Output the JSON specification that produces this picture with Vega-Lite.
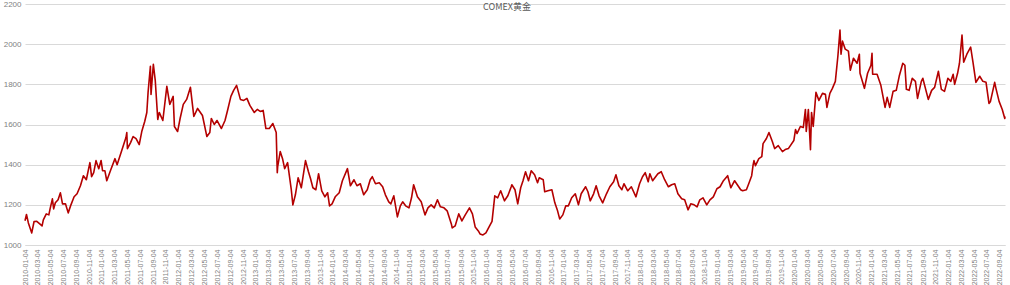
{
  "$schema": "https://vega.github.io/schema/vega-lite/v6.json",
  "width": 980,
  "height": 241,
  "autosize": {"type": "none"},
  "padding": {"left": 25, "top": 4, "right": 5, "bottom": 40},
  "background": "white",
  "title": {"text": "COMEX黄金", "font": "Noto Sans CJK SC", "fontSize": 9, "fontWeight": "normal", "color": "#595959", "anchor": "middle", "frame": "group", "offset": -12, "dx": -8},
  "config": {"view": {"stroke": null}},
  "data": {"values": [
    {"d":"2010-01-04","v":1121},{"d":"2010-01-11","v":1152},{"d":"2010-01-20","v":1110},{"d":"2010-01-28","v":1085},{"d":"2010-02-05","v":1060},{"d":"2010-02-16","v":1117},{"d":"2010-03-01","v":1118},{"d":"2010-03-15","v":1105},{"d":"2010-03-26","v":1095},{"d":"2010-04-01","v":1125},{"d":"2010-04-15","v":1155},{"d":"2010-04-27","v":1150},{"d":"2010-05-03","v":1180},{"d":"2010-05-14","v":1230},{"d":"2010-05-20","v":1180},{"d":"2010-05-28","v":1210},{"d":"2010-06-10","v":1225},{"d":"2010-06-21","v":1260},{"d":"2010-07-01","v":1205},{"d":"2010-07-15","v":1205},{"d":"2010-07-28","v":1160},{"d":"2010-08-10","v":1200},{"d":"2010-08-25","v":1240},{"d":"2010-09-08","v":1255},{"d":"2010-09-24","v":1295},{"d":"2010-10-08","v":1345},{"d":"2010-10-22","v":1325},{"d":"2010-11-08","v":1410},{"d":"2010-11-16","v":1340},{"d":"2010-11-26","v":1360},{"d":"2010-12-07","v":1420},{"d":"2010-12-20","v":1380},{"d":"2010-12-31","v":1421},
    {"d":"2011-01-07","v":1370},{"d":"2011-01-18","v":1370},{"d":"2011-01-27","v":1320},{"d":"2011-02-15","v":1375},{"d":"2011-03-07","v":1430},{"d":"2011-03-17","v":1400},{"d":"2011-04-08","v":1470},{"d":"2011-04-28","v":1535},{"d":"2011-05-02","v":1560},{"d":"2011-05-05","v":1480},{"d":"2011-05-20","v":1510},{"d":"2011-06-01","v":1540},{"d":"2011-06-15","v":1530},{"d":"2011-06-30","v":1500},{"d":"2011-07-12","v":1565},{"d":"2011-07-26","v":1615},{"d":"2011-08-05","v":1660},{"d":"2011-08-11","v":1760},{"d":"2011-08-22","v":1890},{"d":"2011-08-25","v":1750},{"d":"2011-09-05","v":1900},{"d":"2011-09-14","v":1820},{"d":"2011-09-26","v":1625},{"d":"2011-10-03","v":1660},{"d":"2011-10-20","v":1620},{"d":"2011-11-08","v":1790},{"d":"2011-11-22","v":1700},{"d":"2011-12-08","v":1740},{"d":"2011-12-14","v":1590},{"d":"2011-12-29","v":1565},
    {"d":"2012-01-10","v":1630},{"d":"2012-01-25","v":1700},{"d":"2012-02-10","v":1725},{"d":"2012-02-28","v":1785},{"d":"2012-03-15","v":1640},{"d":"2012-04-02","v":1680},{"d":"2012-04-25","v":1645},{"d":"2012-05-16","v":1540},{"d":"2012-05-30","v":1560},{"d":"2012-06-06","v":1630},{"d":"2012-06-20","v":1600},{"d":"2012-07-03","v":1620},{"d":"2012-07-24","v":1580},{"d":"2012-08-10","v":1620},{"d":"2012-08-22","v":1670},{"d":"2012-09-07","v":1740},{"d":"2012-09-20","v":1770},{"d":"2012-10-04","v":1795},{"d":"2012-10-22","v":1725},{"d":"2012-11-07","v":1720},{"d":"2012-11-22","v":1730},{"d":"2012-12-06","v":1695},{"d":"2012-12-27","v":1660},
    {"d":"2013-01-10","v":1675},{"d":"2013-01-24","v":1665},{"d":"2013-02-07","v":1670},{"d":"2013-02-20","v":1580},{"d":"2013-03-08","v":1580},{"d":"2013-03-25","v":1605},{"d":"2013-04-10","v":1560},{"d":"2013-04-15","v":1360},{"d":"2013-04-17","v":1390},{"d":"2013-04-29","v":1465},{"d":"2013-05-10","v":1430},{"d":"2013-05-20","v":1380},{"d":"2013-06-03","v":1410},{"d":"2013-06-20","v":1280},{"d":"2013-06-28","v":1200},{"d":"2013-07-10","v":1250},{"d":"2013-07-23","v":1335},{"d":"2013-08-07","v":1285},{"d":"2013-08-27","v":1420},{"d":"2013-09-10","v":1365},{"d":"2013-09-20","v":1330},{"d":"2013-10-01","v":1285},{"d":"2013-10-15","v":1275},{"d":"2013-10-28","v":1355},{"d":"2013-11-12","v":1270},{"d":"2013-11-27","v":1240},{"d":"2013-12-10","v":1260},{"d":"2013-12-19","v":1195},{"d":"2013-12-31","v":1205},
    {"d":"2014-01-15","v":1240},{"d":"2014-02-03","v":1260},{"d":"2014-02-18","v":1320},{"d":"2014-03-14","v":1380},{"d":"2014-03-28","v":1295},{"d":"2014-04-14","v":1325},{"d":"2014-04-28","v":1295},{"d":"2014-05-14","v":1305},{"d":"2014-05-30","v":1250},{"d":"2014-06-16","v":1275},{"d":"2014-06-30","v":1325},{"d":"2014-07-10","v":1340},{"d":"2014-07-25","v":1305},{"d":"2014-08-12","v":1310},{"d":"2014-08-28","v":1290},{"d":"2014-09-10","v":1250},{"d":"2014-09-26","v":1215},{"d":"2014-10-06","v":1205},{"d":"2014-10-20","v":1245},{"d":"2014-11-06","v":1140},{"d":"2014-11-20","v":1195},{"d":"2014-12-01","v":1215},{"d":"2014-12-15","v":1195},{"d":"2014-12-31","v":1185},
    {"d":"2015-01-12","v":1235},{"d":"2015-01-22","v":1300},{"d":"2015-02-09","v":1240},{"d":"2015-02-27","v":1215},{"d":"2015-03-17","v":1150},{"d":"2015-03-31","v":1185},{"d":"2015-04-15","v":1200},{"d":"2015-04-30","v":1185},{"d":"2015-05-15","v":1225},{"d":"2015-05-29","v":1190},{"d":"2015-06-15","v":1185},{"d":"2015-06-30","v":1170},{"d":"2015-07-20","v":1105},{"d":"2015-07-24","v":1085},{"d":"2015-08-07","v":1095},{"d":"2015-08-24","v":1155},{"d":"2015-09-08","v":1120},{"d":"2015-09-24","v":1150},{"d":"2015-10-14","v":1185},{"d":"2015-10-28","v":1155},{"d":"2015-11-10","v":1090},{"d":"2015-11-25","v":1070},{"d":"2015-12-03","v":1055},{"d":"2015-12-17","v":1050},{"d":"2015-12-31","v":1060},
    {"d":"2016-01-15","v":1090},{"d":"2016-01-29","v":1118},{"d":"2016-02-11","v":1245},{"d":"2016-02-25","v":1235},{"d":"2016-03-10","v":1270},{"d":"2016-03-28","v":1220},{"d":"2016-04-13","v":1245},{"d":"2016-04-29","v":1290},{"d":"2016-05-02","v":1300},{"d":"2016-05-17","v":1275},{"d":"2016-05-30","v":1205},{"d":"2016-06-13","v":1285},{"d":"2016-06-24","v":1320},{"d":"2016-07-06","v":1365},{"d":"2016-07-20","v":1320},{"d":"2016-08-02","v":1370},{"d":"2016-08-18","v":1350},{"d":"2016-09-01","v":1310},{"d":"2016-09-09","v":1335},{"d":"2016-09-28","v":1325},{"d":"2016-10-05","v":1265},{"d":"2016-10-20","v":1270},{"d":"2016-11-08","v":1275},{"d":"2016-11-22","v":1210},{"d":"2016-12-05","v":1170},{"d":"2016-12-15","v":1130},{"d":"2016-12-30","v":1150},
    {"d":"2017-01-13","v":1195},{"d":"2017-01-25","v":1195},{"d":"2017-02-10","v":1235},{"d":"2017-02-27","v":1255},{"d":"2017-03-14","v":1200},{"d":"2017-03-27","v":1255},{"d":"2017-04-17","v":1290},{"d":"2017-04-28","v":1265},{"d":"2017-05-09","v":1220},{"d":"2017-05-25","v":1255},{"d":"2017-06-06","v":1295},{"d":"2017-06-20","v":1245},{"d":"2017-07-07","v":1210},{"d":"2017-07-25","v":1255},{"d":"2017-08-10","v":1290},{"d":"2017-08-28","v":1315},{"d":"2017-09-08","v":1350},{"d":"2017-09-22","v":1295},{"d":"2017-10-06","v":1275},{"d":"2017-10-16","v":1305},{"d":"2017-11-03","v":1270},{"d":"2017-11-20","v":1290},{"d":"2017-12-12","v":1240},{"d":"2017-12-29","v":1305},
    {"d":"2018-01-12","v":1340},{"d":"2018-01-25","v":1360},{"d":"2018-02-08","v":1315},{"d":"2018-02-16","v":1355},{"d":"2018-03-01","v":1320},{"d":"2018-03-26","v":1355},{"d":"2018-04-11","v":1365},{"d":"2018-04-27","v":1325},{"d":"2018-05-15","v":1290},{"d":"2018-05-30","v":1300},{"d":"2018-06-14","v":1305},{"d":"2018-06-29","v":1255},{"d":"2018-07-17","v":1230},{"d":"2018-07-31","v":1225},{"d":"2018-08-16","v":1175},{"d":"2018-08-29","v":1205},{"d":"2018-09-14","v":1200},{"d":"2018-09-28","v":1190},{"d":"2018-10-11","v":1225},{"d":"2018-10-26","v":1235},{"d":"2018-11-13","v":1200},{"d":"2018-11-28","v":1225},{"d":"2018-12-14","v":1240},{"d":"2018-12-31","v":1280},
    {"d":"2019-01-15","v":1290},{"d":"2019-01-31","v":1320},{"d":"2019-02-20","v":1345},{"d":"2019-03-07","v":1285},{"d":"2019-03-25","v":1320},{"d":"2019-04-23","v":1275},{"d":"2019-05-02","v":1270},{"d":"2019-05-20","v":1275},{"d":"2019-05-31","v":1305},{"d":"2019-06-14","v":1345},{"d":"2019-06-21","v":1400},{"d":"2019-06-25","v":1420},{"d":"2019-07-02","v":1395},{"d":"2019-07-18","v":1430},{"d":"2019-08-01","v":1440},{"d":"2019-08-07","v":1505},{"d":"2019-08-23","v":1530},{"d":"2019-09-04","v":1560},{"d":"2019-09-20","v":1515},{"d":"2019-10-01","v":1480},{"d":"2019-10-18","v":1495},{"d":"2019-11-07","v":1465},{"d":"2019-11-20","v":1475},{"d":"2019-12-05","v":1480},{"d":"2019-12-31","v":1520},
    {"d":"2020-01-08","v":1575},{"d":"2020-01-15","v":1555},{"d":"2020-01-31","v":1590},{"d":"2020-02-14","v":1585},{"d":"2020-02-24","v":1675},{"d":"2020-02-28","v":1565},{"d":"2020-03-09","v":1675},{"d":"2020-03-19","v":1475},{"d":"2020-03-24","v":1660},{"d":"2020-04-01","v":1590},{"d":"2020-04-14","v":1760},{"d":"2020-04-28","v":1720},{"d":"2020-05-15","v":1755},{"d":"2020-05-29","v":1750},{"d":"2020-06-05","v":1685},{"d":"2020-06-19","v":1755},{"d":"2020-07-01","v":1780},{"d":"2020-07-15","v":1815},{"d":"2020-07-27","v":1940},{"d":"2020-08-06","v":2070},{"d":"2020-08-11","v":1950},{"d":"2020-08-18","v":2015},{"d":"2020-08-31","v":1975},{"d":"2020-09-15","v":1965},{"d":"2020-09-24","v":1870},{"d":"2020-10-09","v":1930},{"d":"2020-10-26","v":1905},{"d":"2020-11-06","v":1950},{"d":"2020-11-09","v":1855},{"d":"2020-11-30","v":1780},{"d":"2020-12-15","v":1855},{"d":"2020-12-31","v":1895},
    {"d":"2021-01-05","v":1955},{"d":"2021-01-08","v":1850},{"d":"2021-01-29","v":1850},{"d":"2021-02-16","v":1795},{"d":"2021-03-08","v":1685},{"d":"2021-03-18","v":1735},{"d":"2021-03-30","v":1685},{"d":"2021-04-15","v":1765},{"d":"2021-04-30","v":1770},{"d":"2021-05-14","v":1840},{"d":"2021-05-31","v":1905},{"d":"2021-06-10","v":1895},{"d":"2021-06-17","v":1775},{"d":"2021-06-30","v":1770},{"d":"2021-07-15","v":1830},{"d":"2021-07-30","v":1815},{"d":"2021-08-09","v":1730},{"d":"2021-08-27","v":1815},{"d":"2021-09-03","v":1830},{"d":"2021-09-29","v":1725},{"d":"2021-10-15","v":1770},{"d":"2021-10-29","v":1785},{"d":"2021-11-16","v":1865},{"d":"2021-11-30","v":1775},{"d":"2021-12-15","v":1765},{"d":"2021-12-31","v":1830},
    {"d":"2022-01-14","v":1815},{"d":"2022-01-25","v":1850},{"d":"2022-02-01","v":1800},{"d":"2022-02-15","v":1855},{"d":"2022-02-24","v":1905},{"d":"2022-03-08","v":2045},{"d":"2022-03-16","v":1910},{"d":"2022-03-31","v":1950},{"d":"2022-04-18","v":1985},{"d":"2022-04-29","v":1910},{"d":"2022-05-13","v":1810},{"d":"2022-05-31","v":1840},{"d":"2022-06-15","v":1815},{"d":"2022-06-30","v":1810},{"d":"2022-07-14","v":1705},{"d":"2022-07-21","v":1715},{"d":"2022-08-10","v":1810},{"d":"2022-08-16","v":1780},{"d":"2022-08-31","v":1715},{"d":"2022-09-15","v":1675},{"d":"2022-09-27","v":1630},{"d":"2022-09-28","v":1640}
  ]},
  "mark": {"type": "line", "color": "#b40000", "strokeWidth": 1.6, "strokeJoin": "round"},
  "encoding": {
    "x": {
      "field": "d", "type": "temporal", "title": null,
      "scale": {"type": "utc", "nice": false, "domain": [{"year": 2010, "month": 1, "date": 4, "utc": true}, {"year": 2022, "month": 9, "date": 28, "utc": true}]},
      "axis": {
        "format": "%Y-%m-%d", "labelAngle": -90, "labelFontSize": 7, "labelColor": "#7f7f7f", "labelFont": "Liberation Sans",
        "labelOverlap": false, "labelFlush": false, "labelBound": false, "labelPadding": 4,
        "ticks": false, "domainColor": "#d9d9d9", "grid": false,
        "values": [
          {"year":2010,"month":1,"date":4,"utc":true},{"year":2010,"month":3,"date":4,"utc":true},{"year":2010,"month":5,"date":4,"utc":true},{"year":2010,"month":7,"date":4,"utc":true},{"year":2010,"month":9,"date":4,"utc":true},{"year":2010,"month":11,"date":4,"utc":true},
          {"year":2011,"month":1,"date":4,"utc":true},{"year":2011,"month":3,"date":4,"utc":true},{"year":2011,"month":5,"date":4,"utc":true},{"year":2011,"month":7,"date":4,"utc":true},{"year":2011,"month":9,"date":4,"utc":true},{"year":2011,"month":11,"date":4,"utc":true},
          {"year":2012,"month":1,"date":4,"utc":true},{"year":2012,"month":3,"date":4,"utc":true},{"year":2012,"month":5,"date":4,"utc":true},{"year":2012,"month":7,"date":4,"utc":true},{"year":2012,"month":9,"date":4,"utc":true},{"year":2012,"month":11,"date":4,"utc":true},
          {"year":2013,"month":1,"date":4,"utc":true},{"year":2013,"month":3,"date":4,"utc":true},{"year":2013,"month":5,"date":4,"utc":true},{"year":2013,"month":7,"date":4,"utc":true},{"year":2013,"month":9,"date":4,"utc":true},{"year":2013,"month":11,"date":4,"utc":true},
          {"year":2014,"month":1,"date":4,"utc":true},{"year":2014,"month":3,"date":4,"utc":true},{"year":2014,"month":5,"date":4,"utc":true},{"year":2014,"month":7,"date":4,"utc":true},{"year":2014,"month":9,"date":4,"utc":true},{"year":2014,"month":11,"date":4,"utc":true},
          {"year":2015,"month":1,"date":4,"utc":true},{"year":2015,"month":3,"date":4,"utc":true},{"year":2015,"month":5,"date":4,"utc":true},{"year":2015,"month":7,"date":4,"utc":true},{"year":2015,"month":9,"date":4,"utc":true},{"year":2015,"month":11,"date":4,"utc":true},
          {"year":2016,"month":1,"date":4,"utc":true},{"year":2016,"month":3,"date":4,"utc":true},{"year":2016,"month":5,"date":4,"utc":true},{"year":2016,"month":7,"date":4,"utc":true},{"year":2016,"month":9,"date":4,"utc":true},{"year":2016,"month":11,"date":4,"utc":true},
          {"year":2017,"month":1,"date":4,"utc":true},{"year":2017,"month":3,"date":4,"utc":true},{"year":2017,"month":5,"date":4,"utc":true},{"year":2017,"month":7,"date":4,"utc":true},{"year":2017,"month":9,"date":4,"utc":true},{"year":2017,"month":11,"date":4,"utc":true},
          {"year":2018,"month":1,"date":4,"utc":true},{"year":2018,"month":3,"date":4,"utc":true},{"year":2018,"month":5,"date":4,"utc":true},{"year":2018,"month":7,"date":4,"utc":true},{"year":2018,"month":9,"date":4,"utc":true},{"year":2018,"month":11,"date":4,"utc":true},
          {"year":2019,"month":1,"date":4,"utc":true},{"year":2019,"month":3,"date":4,"utc":true},{"year":2019,"month":5,"date":4,"utc":true},{"year":2019,"month":7,"date":4,"utc":true},{"year":2019,"month":9,"date":4,"utc":true},{"year":2019,"month":11,"date":4,"utc":true},
          {"year":2020,"month":1,"date":4,"utc":true},{"year":2020,"month":3,"date":4,"utc":true},{"year":2020,"month":5,"date":4,"utc":true},{"year":2020,"month":7,"date":4,"utc":true},{"year":2020,"month":9,"date":4,"utc":true},{"year":2020,"month":11,"date":4,"utc":true},
          {"year":2021,"month":1,"date":4,"utc":true},{"year":2021,"month":3,"date":4,"utc":true},{"year":2021,"month":5,"date":4,"utc":true},{"year":2021,"month":7,"date":4,"utc":true},{"year":2021,"month":9,"date":4,"utc":true},{"year":2021,"month":11,"date":4,"utc":true},
          {"year":2022,"month":1,"date":4,"utc":true},{"year":2022,"month":3,"date":4,"utc":true},{"year":2022,"month":5,"date":4,"utc":true},{"year":2022,"month":7,"date":4,"utc":true},{"year":2022,"month":9,"date":4,"utc":true}
        ]
      }
    },
    "y": {
      "field": "v", "type": "quantitative", "title": null,
      "scale": {"domain": [1000, 2200], "nice": false, "zero": false},
      "axis": {"values": [1000, 1200, 1400, 1600, 1800, 2000, 2200], "format": "d", "domain": false, "ticks": false, "labelFontSize": 8, "labelColor": "#7f7f7f", "labelFont": "Liberation Sans", "labelPadding": 4, "gridColor": "#d9d9d9", "gridWidth": 1}
    }
  }
}
